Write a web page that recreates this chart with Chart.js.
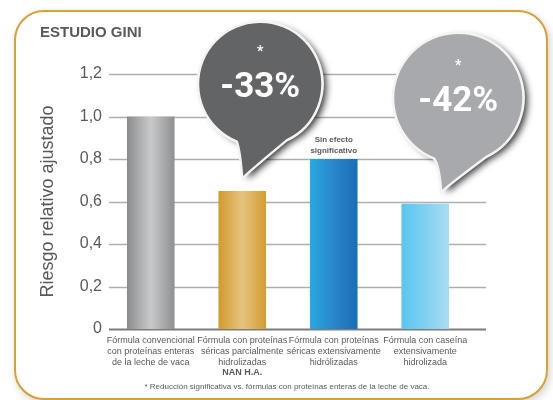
<!DOCTYPE html>
<html>
<head>
<meta charset="utf-8">
<script src="https://cdn.jsdelivr.net/npm/chart.js@4"></script>
<style>
  html, body { margin: 0; padding: 0; background: #fff; }
  #wrap { position: relative; width: 553px; height: 400px; overflow: hidden; }
  #panel {
    position: absolute; left: 14px; top: 10px; width: 530px; height: 386px;
    border: 2.5px solid #d9a032; border-radius: 30px; background: #fff;
    box-shadow: 2px 3px 8px rgba(0,0,0,0.18);
  }
  canvas { position: absolute; left: 0; top: 0; }
</style>
</head>
<body>
<div id="wrap">
  <div id="panel"></div>
  <canvas id="chart" width="553" height="400"></canvas>
</div>
<script>
// data
const categories = [
  ['Fórmula convencional', 'con proteínas enteras', 'de la leche de vaca'],
  ['Fórmula con proteínas', 'séricas parcialmente', 'hidrolizadas', ''],
  ['Fórmula con proteínas', 'séricas extensivamente', 'hidrólizadas'],
  ['Fórmula con caseína', 'extensivamente', 'hidrolizada']
];
const riesgo = [1.0, 0.65, 0.80, 0.59];
const reductions = ['', '-33%', '', '-42%'];
const yTicks = [0, 0.2, 0.4, 0.6, 0.8, 1.0, 1.2];

const narrow = "'Liberation Sans Narrow', 'Liberation Sans', Arial, sans-serif";

// horizontal gradients for each bar
const barStops = [
  ['#8b8c8e', '#c9cacc', '#8e8f91'],
  ['#d29a2c', '#e6c47e', '#d49d30'],
  ['#27a9e1', '#2a86c8', '#1b6db5'],
  ['#58c6ee', '#80d0f0', '#a9ddf3']
];
function barColor(ctx) {
  const chart = ctx.chart;
  const s = barStops[ctx.dataIndex];
  const xs = chart.scales.x;
  if (!xs || !chart.chartArea) return s[0];
  const cx = xs.getPixelForValue(ctx.dataIndex);
  const w = xs.width / categories.length * 0.52;
  if (!Number.isFinite(cx) || !Number.isFinite(w) || w <= 0) return s[0];
  const g = chart.ctx.createLinearGradient(cx - w / 2, 0, cx + w / 2, 0);
  g.addColorStop(0, s[0]); g.addColorStop(0.5, s[1]); g.addColorStop(1, s[2]);
  return g;
}

// gridlines run a bit past the plot area on the right
const gridPlugin = {
  id: 'grid',
  beforeDatasetsDraw(chart) {
    const { ctx } = chart;
    const y = chart.scales.y;
    ctx.save();
    yTicks.forEach(v => {
      const py = Math.round(y.getPixelForValue(v)) + 0.5;
      ctx.strokeStyle = v === 0 ? '#7d7d7f' : '#adaeb0';
      ctx.lineWidth = v === 0 ? 2 : 1.5;
      ctx.beginPath(); ctx.moveTo(109, py); ctx.lineTo(486, py); ctx.stroke();
    });
    ctx.restore();
  }
};

function bubble(ctx, cx, cy, r, tx, ty, fill, label) {
  ctx.save();
  const a1 = Math.PI * 0.62, a2 = Math.PI * 0.36;
  const path = new Path2D();
  path.moveTo(cx + r * Math.cos(a2), cy + r * Math.sin(a2));
  path.quadraticCurveTo(tx + 6, ty - 6, tx, ty);
  path.quadraticCurveTo(tx - 2, ty - 26, cx + r * Math.cos(a1), cy + r * Math.sin(a1));
  path.arc(cx, cy, r, a1, a2 + Math.PI * 2, false);
  path.closePath();
  ctx.shadowColor = 'rgba(0,0,0,0.8)';
  ctx.shadowBlur = 7;
  ctx.shadowOffsetX = 5;
  ctx.shadowOffsetY = 3;
  ctx.fillStyle = '#f2f2f2';
  ctx.fill(path);
  ctx.shadowColor = 'transparent';
  ctx.lineWidth = 5;
  ctx.strokeStyle = '#f4f4f4';
  ctx.stroke(path);
  ctx.fillStyle = fill;
  ctx.fill(path);
  ctx.fillStyle = '#fff';
  ctx.textAlign = 'center';
  ctx.textBaseline = 'middle';
  ctx.font = "bold 35px Roboto, 'Open Sans', sans-serif";
  ctx.fillText(label, cx, cy + 4);
  ctx.font = "bold 14px Roboto, sans-serif";
  ctx.fillText('*', cx, cy - 32);
  ctx.restore();
}

const extrasPlugin = {
  id: 'extras',
  afterDraw(chart) {
    const { ctx } = chart;
    const x = chart.scales.x, y = chart.scales.y;
    ctx.save();
    ctx.fillStyle = '#58595b';
    ctx.textBaseline = 'middle';
    ctx.textAlign = 'left';
    ctx.font = "bold 15px " + narrow;
    ctx.fillText('ESTUDIO GINI', 40, 33);

    ctx.textAlign = 'center';
    ctx.font = "bold 9px " + narrow;
    ctx.fillText('NAN H.A.', x.getPixelForValue(1), 373);

    ctx.font = "bold 8px " + narrow;
    const x3 = x.getPixelForValue(2);
    ctx.fillText('Sin efecto', x3, 140);
    ctx.fillText('significativo', x3, 151);

    ctx.font = "8px " + narrow;
    ctx.fillText('* Reducción significativa vs. fórmulas con proteínas enteras de la leche de vaca.', 287, 387);
    ctx.restore();

    // speech bubbles above the reduced-risk bars
    const b1x = x.getPixelForValue(1), b1y = y.getPixelForValue(riesgo[1]);
    bubble(ctx, b1x + 18, 84, 61, b1x + 1, b1y - 15, '#636466', reductions[1]);
    const b2x = x.getPixelForValue(3), b2y = y.getPixelForValue(riesgo[3]);
    bubble(ctx, b2x + 33, 98, 64, b2x + 17, b2y - 14, '#a7a9ac', reductions[3]);
  }
};

new Chart(document.getElementById('chart'), {
  type: 'bar',
  data: {
    labels: categories,
    datasets: [{
      data: riesgo,
      backgroundColor: barColor,
      borderWidth: 0,
      barPercentage: 0.52,
      categoryPercentage: 1
    }]
  },
  options: {
    responsive: false,
    animation: false,
    layout: { padding: { top: 74, right: 82, left: 0, bottom: 0 } },
    plugins: { legend: { display: false }, tooltip: { enabled: false } },
    scales: {
      x: {
        offset: true,
        grid: { display: false, drawTicks: false },
        border: { display: false },
        ticks: {
          padding: 6, maxRotation: 0, autoSkip: false,
          color: '#58595b',
          font: { family: narrow, size: 9, lineHeight: 1.22 }
        },
        afterFit(scale) { scale.height = 71; }
      },
      y: {
        min: 0, max: 1.2,
        afterBuildTicks(scale) { scale.ticks = yTicks.map(v => ({ value: v })); },
        grid: { display: false, drawTicks: false },
        border: { display: false },
        ticks: {
          padding: 3,
          color: '#58595b',
          font: { family: "'Liberation Sans', Arial, sans-serif", size: 16 },
          callback: v => v === 0 ? '0' : v.toFixed(1).replace('.', ',')
        },
        title: {
          display: true,
          text: 'Riesgo relativo ajustado',
          color: '#58595b',
          font: { family: "'Liberation Sans', Arial, sans-serif", size: 18 },
          padding: { top: 37, bottom: 0 }
        },
        afterFit(scale) { scale.width = 105; }
      }
    }
  },
  plugins: [gridPlugin, extrasPlugin]
});
</script>
</body>
</html>
